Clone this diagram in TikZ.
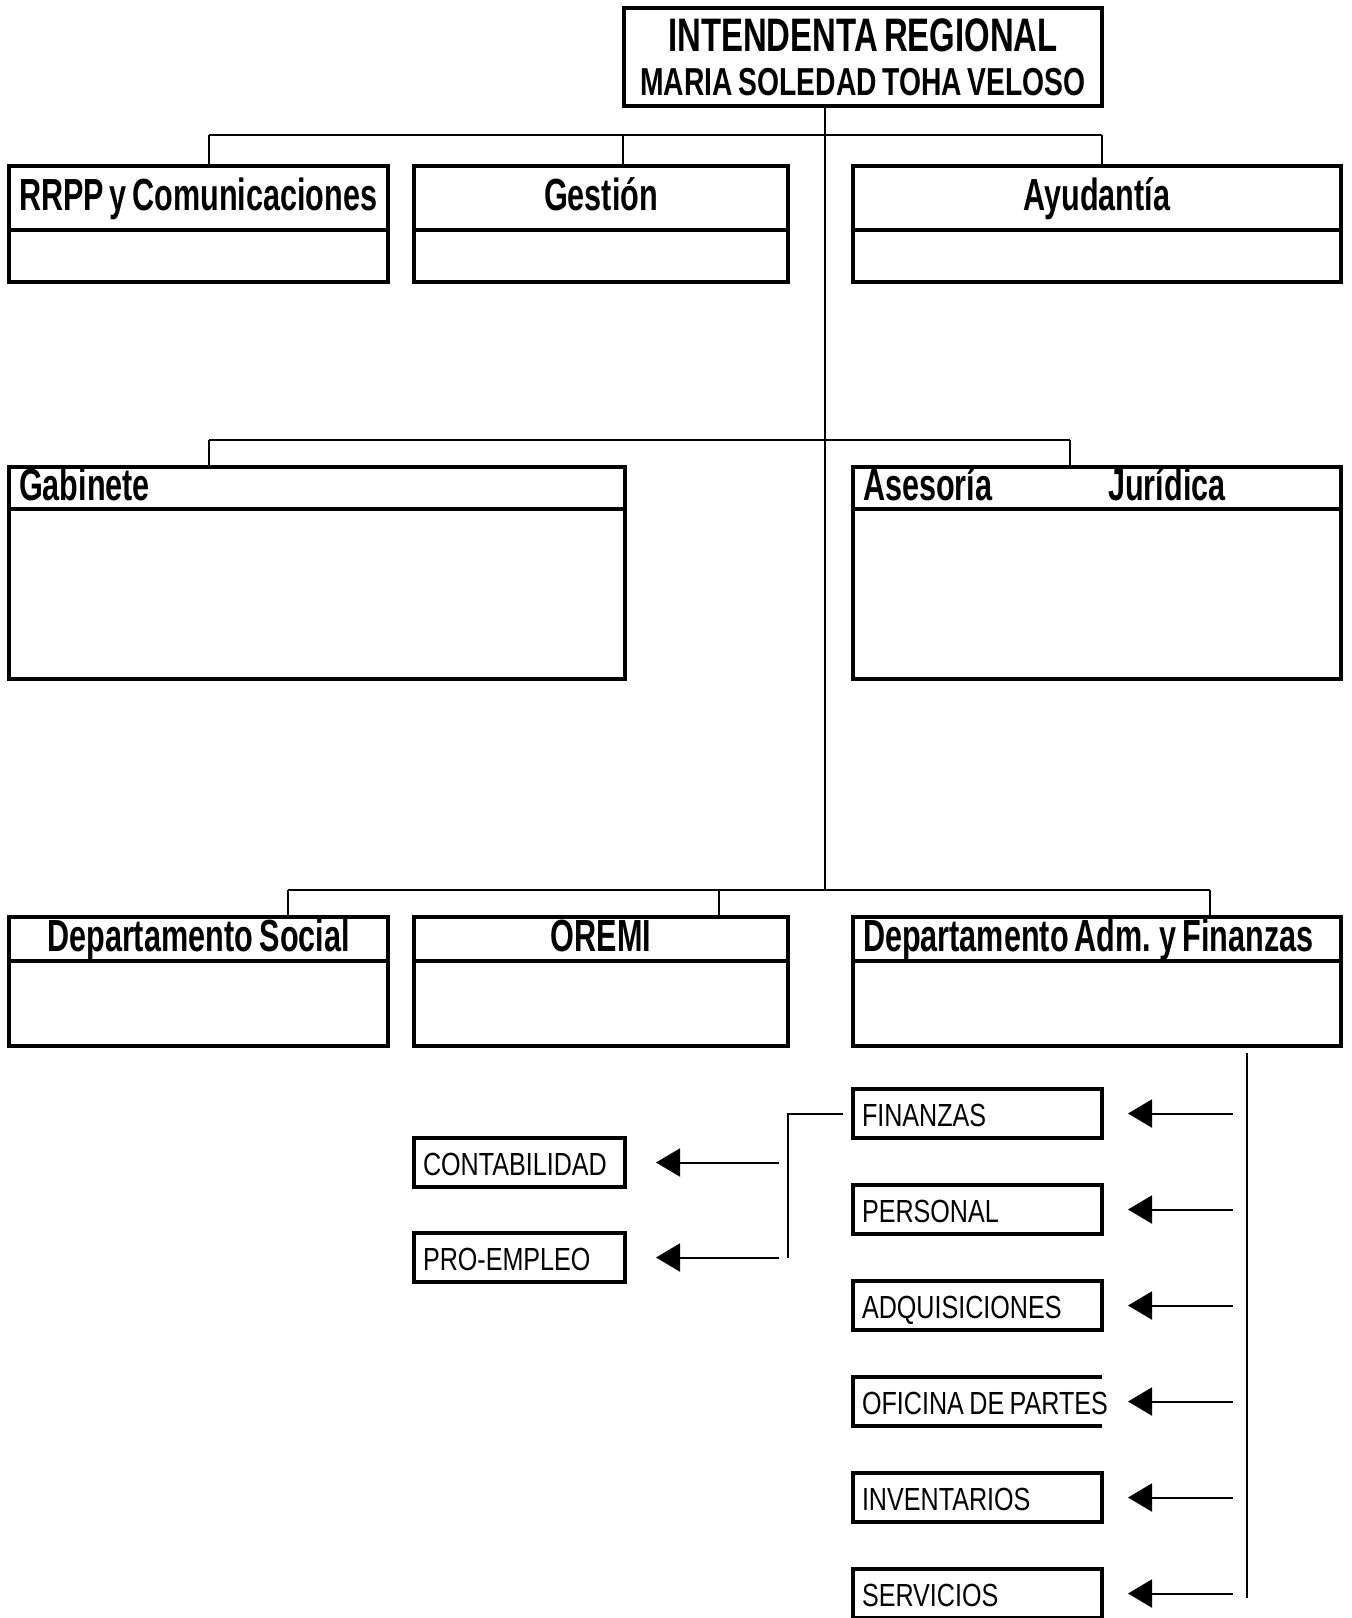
\documentclass[tikz,border=0pt]{standalone}
\usepackage{fontspec}
\setmainfont{Liberation Sans}
\newfontfamily\topfont[FakeStretch=0.70, WordSpace=0.7]{Liberation Sans}
\newfontfamily\topfontB[FakeStretch=0.725, WordSpace=0.725]{Liberation Sans}
\newfontfamily\headfont[FakeStretch=0.68, WordSpace=0.68]{Liberation Sans}
\newfontfamily\subfont[FakeStretch=0.785, WordSpace=0.785]{Liberation Sans}
\usetikzlibrary{positioning,arrows.meta}

\begin{document}
\begin{tikzpicture}[
    x=0.5pt, y=-0.5pt,
    link/.style={line width=1pt},
    arr/.style={line width=1pt, -{Triangle[length=12pt,width=14pt]}, shorten >=13pt},
    natural spaces/.style={execute at begin node={\spaceskip=0pt\xspaceskip=0pt\relax}},
    unit/.style={draw, line width=1.8pt, anchor=north west, inner sep=0pt, outer sep=0pt},
    head/.style={unit, inner xsep=5pt, text height=16.5pt, text depth=4.5pt, natural spaces,
                 font=\headfont\bfseries\fontsize{22.5}{24}\selectfont},
    body/.style={unit},
    sub/.style={draw, line width=1.6pt, anchor=north west, outer sep=0pt,
                inner xsep=4.5pt, inner ysep=0pt, minimum height=24.5pt, align=left,
                text height=13.5pt, text depth=1pt, natural spaces,
                font=\subfont\fontsize{16}{18}\selectfont},
    wA/.style={minimum width=189.5pt, text width=179.5pt},
    wB/.style={minimum width=187pt, text width=177pt},
    wC/.style={minimum width=244pt, text width=234pt},
    wD/.style={minimum width=308pt, text width=298pt},
  ]
  \useasboundingbox (0,0) rectangle (1351,1618);

  % ---------------------------------------------------------------
  % head of the chart
  % ---------------------------------------------------------------
  \node[unit, minimum width=239pt, minimum height=49pt, align=center,
        font=\topfontB\bfseries\fontsize{19.5}{22}\selectfont] (top) at (624,8)
    {{\topfont\fontsize{23.5}{22}\selectfont INTENDENTA REGIONAL}\\
     MARIA SOLEDAD TOHA VELOSO};

  % ---------------------------------------------------------------
  % first row
  % ---------------------------------------------------------------
  \node[head, wA, minimum height=32pt, align=left] (rrpp) at (9,166) {RRPP y Comunicaciones};
  \node[body, wA, minimum height=26pt] (rrppB) at (rrpp.south west) {};
  \node[head, wB, minimum height=32pt, align=center] (ges) at (414,166) {Gestión};
  \node[body, wB, minimum height=26pt] (gesB) at (ges.south west) {};
  \node[head, wC, minimum height=32pt, align=center] (ayu) at (853,166) {Ayudantía};
  \node[body, wC, minimum height=26pt] (ayuB) at (ayu.south west) {};

  % ---------------------------------------------------------------
  % second row
  % ---------------------------------------------------------------
  \node[head, wD, minimum height=21pt, align=left] (gab) at (9,467) {Gabinete};
  \node[body, wD, minimum height=85pt] (gabB) at (gab.south west) {};
  \node[head, wC, minimum height=21pt, align=left] (ase) at (853,467)
    {Asesoría\hspace{58pt}Jurídica};
  \node[body, wC, minimum height=85pt] (aseB) at (ase.south west) {};

  % ---------------------------------------------------------------
  % third row
  % ---------------------------------------------------------------
  \node[head, wA, minimum height=22pt, align=center] (soc) at (9,917) {Departamento Social};
  \node[body, wA, minimum height=42.5pt] (socB) at (soc.south west) {};
  \node[head, wB, minimum height=22pt, align=center] (oremi) at (414,917) {OREMI};
  \node[body, wB, minimum height=42.5pt] (oremiB) at (oremi.south west) {};
  \node[head, wC, minimum height=22pt, align=left] (adm) at (853,917)
    {Departamento Adm. y Finanzas};
  \node[body, wC, minimum height=42.5pt] (admB) at (adm.south west) {};

  % ---------------------------------------------------------------
  % tree lines
  % ---------------------------------------------------------------
  \coordinate (trunk) at (825,890);
  \draw[link] (trunk |- top.south) -- (trunk);

  \coordinate (b1L) at (209,135);
  \coordinate (b1G) at (623,135);
  \coordinate (b1R) at (1102,135);
  \draw[link] (b1L) -- (b1R);
  \draw[link] (b1L) -- (b1L |- rrpp.north);
  \draw[link] (b1G) -- (b1G |- ges.north);
  \draw[link] (b1R) -- (b1R |- ayu.north);

  \coordinate (b2L) at (209,440);
  \coordinate (b2R) at (1070,440);
  \draw[link] (b2L) -- (b2R);
  \draw[link] (b2L) -- (b2L |- gab.north);
  \draw[link] (b2R) -- (b2R |- ase.north);

  \coordinate (b3L) at (288,890);
  \coordinate (b3M) at (719,890);
  \coordinate (b3R) at (1210,890);
  \draw[link] (b3L) -- (b3R);
  \draw[link] (b3L) -- (b3L |- soc.north);
  \draw[link] (b3M) -- (b3M |- oremi.north);
  \draw[link] (b3R) -- (b3R |- adm.north);

  % ---------------------------------------------------------------
  % units under Adm. y Finanzas
  % ---------------------------------------------------------------
  \node[sub, minimum width=124.5pt, text width=115.5pt] (fin) at (853,1089) {FINANZAS};
  \node[sub, minimum width=124.5pt, text width=115.5pt, below=23.5pt of fin.south west,
        anchor=north west] (per) {PERSONAL};
  \node[sub, minimum width=124.5pt, text width=115.5pt, below=23.5pt of per.south west,
        anchor=north west] (adq) {ADQUISICIONES};
  \node[sub, draw=none, minimum width=124.5pt, text width=115.5pt,
        below=23.5pt of adq.south west, anchor=north west] (ofi) {\mbox{OFICINA DE PARTES}};
  \draw[line width=1.6pt] (ofi.north east) -- (ofi.north west) -- (ofi.south west)
    -- (ofi.south east);
  \node[sub, minimum width=124.5pt, text width=115.5pt, below=23.5pt of ofi.south west,
        anchor=north west] (inv) {INVENTARIOS};
  \node[sub, minimum width=124.5pt, text width=115.5pt, below=23.5pt of inv.south west,
        anchor=north west] (serv) {SERVICIOS};

  \coordinate (vTop) at (1247,1053);
  \coordinate (vBot) at (1247,1598);
  \draw[link] (vTop) -- (vBot);

  \coordinate (arrR) at (1233,0);
  \draw[arr] (arrR |- fin.east) -- (fin.east);
  \draw[arr] (arrR |- per.east) -- (per.east);
  \draw[arr] (arrR |- adq.east) -- (adq.east);
  \draw[arr] (arrR |- ofi.east) -- (ofi.east);
  \draw[arr] (arrR |- inv.east) -- (inv.east);
  \draw[arr] (arrR |- serv.east) -- (serv.east);

  % ---------------------------------------------------------------
  % units fed from Finanzas
  % ---------------------------------------------------------------
  \node[sub, minimum width=105.5pt, text width=96.5pt] (cont) at (414,1138) {CONTABILIDAD};
  \node[sub, minimum width=105.5pt, text width=96.5pt, below=23pt of cont.south west,
        anchor=north west] (pro) {PRO-EMPLEO};

  \coordinate (brk) at (788,1258);
  \draw[link] ([xshift=-5pt]fin.west) -| (brk);

  \coordinate (arrL) at (779,0);
  \draw[arr, shorten >=15.5pt] (arrL |- cont.east) -- (cont.east);
  \draw[arr, shorten >=15.5pt] (arrL |- pro.east) -- (pro.east);
\end{tikzpicture}
\end{document}
